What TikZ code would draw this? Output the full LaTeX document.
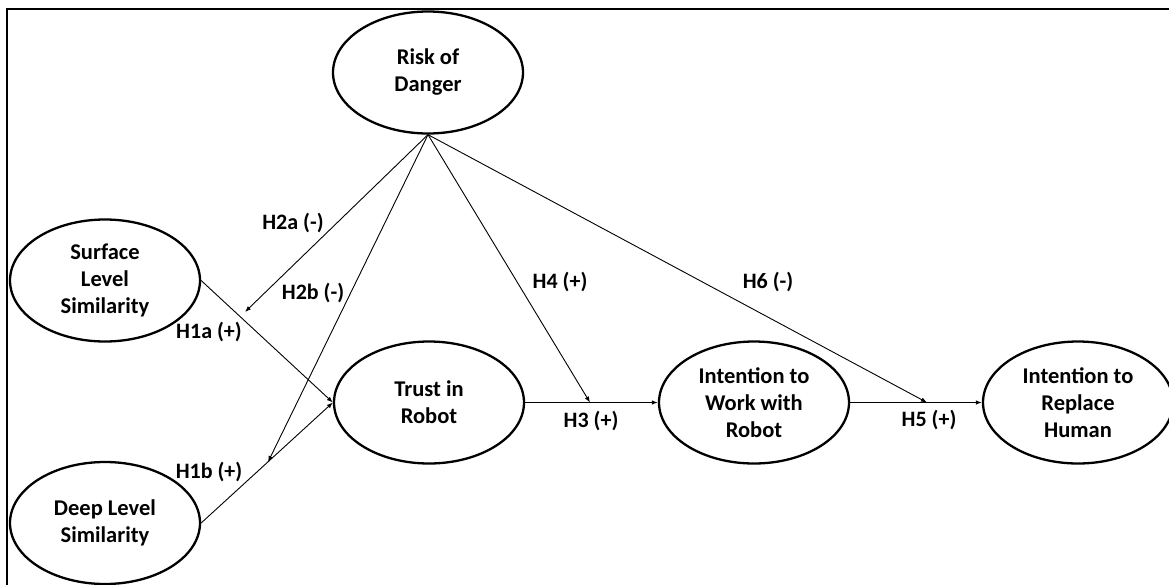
\documentclass[tikz,border=0pt]{standalone}
\usepackage{fontspec}
\setmainfont{Carlito}
\usetikzlibrary{arrows.meta,shapes.geometric}

\begin{document}
\begin{tikzpicture}[x=1pt,y=-1pt,
  construct/.style={draw, ellipse, line width=2.3pt, minimum width=190pt, minimum height=122pt,
    inner sep=0pt, align=center, font=\fontsize{22.5}{27}\selectfont\bfseries},
  hlabel/.style={inner sep=0pt, font=\fontsize{22}{27}\selectfont\bfseries},
  hyp/.style={-{Latex[length=6pt,width=4.5pt]}, line width=0.9pt}]
  \useasboundingbox (0,0) rectangle (1169,584);
  % frame (cut off at right and bottom)
  \draw[line width=2.3pt] (1175,9) -- (7,9) -- (7,590);

  % constructs
  \node[construct] (risk) at (428,72.5) {Risk of\\Danger};
  \node[construct] (surface) at (105,280.5) {Surface\\Level\\Similarity};
  \node[construct] (deep) at (105,523) {Deep Level\\Similarity};
  \node[construct] (trust) at (429,402.5) {Trust in\\Robot};
  \node[construct] (work) at (754,402.5) {Intention to\\Work with\\Robot};
  \node[construct] (replace) at (1078,402.5) {Intention to\\Replace\\Human};

  % main paths
  \draw[hyp] (surface.east) -- (trust.west);
  \draw[hyp] (deep.east) -- (trust.west);
  \draw[hyp] (trust.east) -- (work.west);
  \draw[hyp] (work.east) -- (replace.west);

  % moderating paths of risk
  \coordinate (m2a) at (245,312);
  \coordinate (m2b) at (268,462);
  \coordinate (m4) at (590,402.5);
  \coordinate (m6) at (927,402.5);
  \draw[hyp] (risk.south) -- (m2a);
  \draw[hyp] (risk.south) -- (m2b);
  \draw[hyp] (risk.south) -- (m4);
  \draw[hyp] (risk.south) -- (m6);

  % hypotheses
  \node[hlabel] (l1a) at (209,332) {H1a (+)};
  \node[hlabel] (l1b) at (209,472) {H1b (+)};
  \node[hlabel] (l2a) at (293,223) {H2a (-)};
  \node[hlabel] (l2b) at (313,293) {H2b (-)};
  \node[hlabel] (l3) at (591,421) {H3 (+)};
  \node[hlabel] (l4) at (560,282) {H4 (+)};
  \node[hlabel] (l5) at (929,420) {H5 (+)};
  \node[hlabel] (l6) at (768,282) {H6 (-)};
\end{tikzpicture}
\end{document}
